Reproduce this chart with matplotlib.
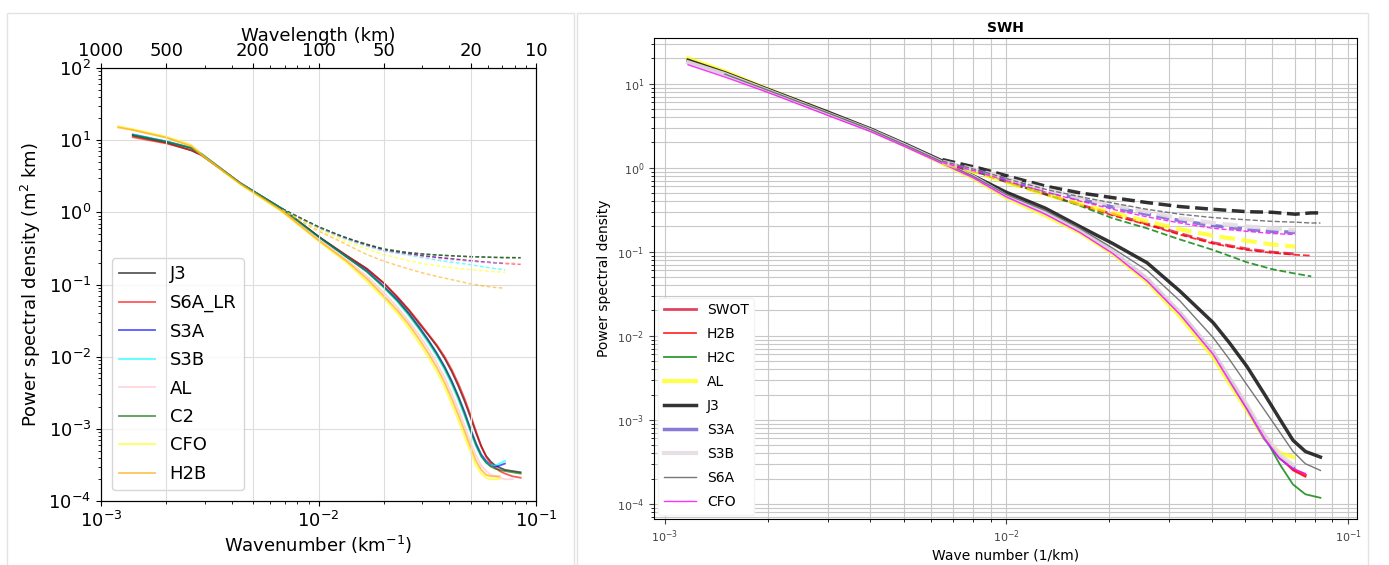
import numpy as np
import matplotlib.pyplot as plt
from matplotlib.patches import Rectangle

nan = np.nan

# ---------------- left panel: along-track PSD per mission ----------------
k_left = [0.0012, 0.0014, 0.0020, 0.0026, 0.0029, 0.0044, 0.0068, 0.0100, 0.0135,
          0.0167, 0.0200, 0.0230, 0.0260, 0.0290, 0.0320, 0.0350, 0.0380, 0.0410,
          0.0440, 0.0470, 0.0500, 0.0530, 0.0560, 0.0590, 0.0620, 0.0650, 0.0680,
          0.0720, 0.0780, 0.0850]

psd_left = {
    "J3":     [nan, 11.5, 9.2, 7.2, 6.2, 2.5, 1.12, 0.46, 0.25,
               0.165, 0.104, 0.067, 0.044, 0.029, 0.020, 0.014, 0.0095, 0.0062,
               0.0039, 0.0024, 1.45e-3, 8.8e-4, 5.7e-4, 4.2e-4, 3.5e-4, 3.1e-4, 2.9e-4,
               2.7e-4, 2.6e-4, 2.5e-4],
    "S6A_LR": [nan, 11.0, 9.0, 7.3, 6.2, 2.5, 1.10, 0.46, 0.25,
               0.165, 0.104, 0.068, 0.045, 0.030, 0.0205, 0.0145, 0.0100, 0.0066,
               0.0042, 0.0026, 1.55e-3, 9.2e-4, 5.8e-4, 4.1e-4, 3.3e-4, 2.9e-4, 2.6e-4,
               2.4e-4, 2.2e-4, 2.1e-4],
    "S3A":    [nan, 12.0, 9.6, 7.8, 6.4, 2.5, 1.12, 0.46, 0.24,
               0.155, 0.094, 0.062, 0.040, 0.026, 0.017, 0.0112, 0.0073, 0.0046,
               0.0028, 0.0017, 1.0e-3, 6.3e-4, 4.4e-4, 3.6e-4, 3.1e-4, 3.0e-4, 3.1e-4,
               3.3e-4, nan, nan],
    "S3B":    [nan, 12.0, 9.6, 7.8, 6.4, 2.5, 1.12, 0.45, 0.24,
               0.150, 0.090, 0.058, 0.037, 0.024, 0.0155, 0.0102, 0.0066, 0.0041,
               0.0025, 0.0015, 9.0e-4, 5.7e-4, 4.1e-4, 3.4e-4, 3.1e-4, 3.1e-4, 3.3e-4,
               3.6e-4, nan, nan],
    "AL":     [15.5, 14.0, 11.0, 8.6, 6.5, 2.5, 1.08, 0.43, 0.22,
               0.130, 0.077, 0.049, 0.031, 0.020, 0.0128, 0.0082, 0.0052, 0.0031,
               1.85e-3, 1.1e-3, 6.6e-4, 4.3e-4, 3.1e-4, 2.6e-4, 2.3e-4, 2.2e-4, 2.1e-4,
               2.0e-4, 2.0e-4, nan],
    "C2":     [nan, 11.8, 9.5, 7.8, 6.4, 2.5, 1.12, 0.46, 0.24,
               0.150, 0.092, 0.060, 0.039, 0.025, 0.0165, 0.0108, 0.0070, 0.0044,
               0.0027, 1.6e-3, 9.5e-4, 6.0e-4, 4.2e-4, 3.4e-4, 3.0e-4, 2.8e-4, 2.7e-4,
               2.6e-4, 2.5e-4, 2.4e-4],
    "CFO":    [15.5, 14.2, 11.2, 8.5, 6.3, 2.4, 1.02, 0.40, 0.20,
               0.110, 0.064, 0.040, 0.025, 0.0155, 0.0098, 0.0062, 0.0038, 0.0022,
               1.3e-3, 7.7e-4, 4.7e-4, 3.1e-4, 2.4e-4, 2.1e-4, 2.0e-4, 2.0e-4, 2.0e-4,
               nan, nan, nan],
    "H2B":    [15.0, 13.8, 10.8, 8.2, 6.2, 2.45, 1.04, 0.41, 0.21,
               0.120, 0.069, 0.044, 0.028, 0.0175, 0.0111, 0.0071, 0.0044, 0.0026,
               1.55e-3, 9.2e-4, 5.6e-4, 3.6e-4, 2.7e-4, 2.3e-4, 2.2e-4, 2.2e-4, 2.2e-4,
               nan, nan, nan],
}

# noisy (dashed) spectra
k_left_d = [0.0068, 0.0085, 0.0100, 0.0125, 0.0145, 0.0167, 0.0200, 0.0250, 0.0300,
            0.0360, 0.0430, 0.0500, 0.0580, 0.0650, 0.0720, 0.0800, 0.0850]

psd_left_d = {
    "J3":     [1.12, 0.80, 0.63, 0.48, 0.41, 0.36, 0.31, 0.28, 0.265, 0.255, 0.248, 0.243,
               0.240, 0.237, 0.235, 0.235, 0.235],
    "S6A_LR": [1.10, 0.79, 0.62, 0.47, 0.40, 0.35, 0.30, 0.27, 0.250, 0.236, 0.225, 0.215,
               0.205, 0.200, 0.195, 0.192, 0.190],
    "S3A":    [1.12, 0.79, 0.62, 0.47, 0.40, 0.35, 0.30, 0.27, 0.250, 0.235, 0.222, 0.212,
               0.205, 0.200, 0.198, nan, nan],
    "S3B":    [1.12, 0.78, 0.61, 0.46, 0.39, 0.34, 0.29, 0.26, 0.235, 0.215, 0.200, 0.188,
               0.175, 0.166, 0.160, nan, nan],
    "AL":     [1.08, 0.78, 0.61, 0.46, 0.39, 0.34, 0.29, 0.26, 0.240, 0.225, 0.215, 0.208,
               0.202, 0.200, 0.200, 0.200, nan],
    "C2":     [1.12, 0.80, 0.63, 0.48, 0.41, 0.36, 0.31, 0.28, 0.265, 0.255, 0.248, 0.243,
               0.240, 0.238, 0.237, 0.236, 0.235],
    "CFO":    [1.08, 0.75, 0.58, 0.43, 0.36, 0.31, 0.26, 0.22, 0.195, 0.180, 0.168, 0.160,
               0.155, 0.150, 0.148, nan, nan],
    "H2B":    [1.08, 0.72, 0.55, 0.40, 0.32, 0.26, 0.21, 0.17, 0.145, 0.127, 0.113, 0.102,
               0.095, 0.091, 0.089, nan, nan],
}

colors_left = {"J3": "black", "S6A_LR": "red", "S3A": "blue", "S3B": "cyan",
               "AL": "pink", "C2": "darkgreen", "CFO": "yellow", "H2B": "orange"}

wavelength_ticks = [1000, 500, 200, 100, 50, 20, 10]

# ---------------- right panel: SWH spectra ----------------
k_right = [0.00117, 0.0015, 0.0020, 0.0030, 0.0040, 0.00515, 0.0065, 0.0080, 0.0100,
           0.0130, 0.0164, 0.0205, 0.0258, 0.0322, 0.0403, 0.0450, 0.0506, 0.0570,
           0.0633, 0.0690, 0.0750, 0.0830]

psd_right = {
    "SWOT": [nan, 13.0, 8.3, 4.4, 2.8, 1.78, 1.15, 0.78, 0.46, 0.29, 0.18, 0.10, 0.048,
             0.019, 6.3e-3, 3.1e-3, 1.45e-3, 6.5e-4, 3.6e-4, 2.6e-4, 2.2e-4, nan],
    "H2B":  [nan, 13.0, 8.3, 4.4, 2.8, 1.78, 1.15, 0.78, 0.46, 0.29, 0.18, 0.10, 0.047,
             0.0187, 6.2e-3, 3.0e-3, 1.4e-3, 6.3e-4, 3.5e-4, 2.5e-4, 2.1e-4, nan],
    "H2C":  [nan, 13.0, 8.3, 4.4, 2.8, 1.78, 1.15, 0.78, 0.46, 0.29, 0.18, 0.10, 0.047,
             0.019, 6.5e-3, 3.2e-3, 1.5e-3, 6.2e-4, 2.9e-4, 1.7e-4, 1.3e-4, 1.18e-4],
    "AL":   [20.0, 14.0, 8.6, 4.5, 2.8, 1.78, 1.12, 0.75, 0.44, 0.27, 0.17, 0.095, 0.044,
             0.017, 5.6e-3, 2.7e-3, 1.3e-3, 6.0e-4, 4.0e-4, 3.6e-4, nan, nan],
    "J3":   [19.0, 13.5, 8.6, 4.6, 2.9, 1.85, 1.20, 0.80, 0.51, 0.33, 0.20, 0.125, 0.074,
             0.034, 0.0143, 8.2e-3, 4.3e-3, 2.0e-3, 1.0e-3, 5.7e-4, 4.2e-4, 3.6e-4],
    "S3A":  [18.0, 13.0, 8.3, 4.4, 2.8, 1.78, 1.15, 0.78, 0.46, 0.29, 0.18, 0.10, 0.047,
             0.0187, 6.3e-3, 3.0e-3, 1.4e-3, 6.0e-4, 3.5e-4, 2.7e-4, nan, nan],
    "S3B":  [18.0, 13.0, 8.3, 4.4, 2.8, 1.78, 1.15, 0.78, 0.46, 0.29, 0.18, 0.10, 0.048,
             0.019, 6.4e-3, 3.1e-3, 1.5e-3, 6.5e-4, 3.8e-4, 2.9e-4, nan, nan],
    "S6A":  [nan, 13.0, 8.4, 4.5, 2.85, 1.8, 1.17, 0.79, 0.48, 0.31, 0.19, 0.11, 0.060,
             0.026, 9.5e-3, 5.2e-3, 2.6e-3, 1.3e-3, 7.0e-4, 4.2e-4, 3.0e-4, 2.5e-4],
    "CFO":  [16.8, 12.0, 7.9, 4.2, 2.7, 1.72, 1.12, 0.76, 0.45, 0.28, 0.17, 0.095, 0.045,
             0.018, 6.0e-3, 2.9e-3, 1.35e-3, 6.0e-4, 3.4e-4, 2.6e-4, 2.3e-4, nan],
}

k_right_d = [0.0065, 0.0084, 0.0105, 0.0131, 0.0165, 0.0205, 0.0258, 0.0322, 0.0403,
             0.0506, 0.0600, 0.0700, 0.0780, 0.0830]

psd_right_d = {
    "SWOT": [1.15, 0.86, 0.64, 0.48, 0.36, 0.28, 0.215, 0.165, 0.128, 0.108, 0.099, 0.094, nan, nan],
    "H2B":  [1.15, 0.86, 0.64, 0.48, 0.36, 0.27, 0.21, 0.16, 0.125, 0.105, 0.097, 0.092, 0.090, nan],
    "H2C":  [1.15, 0.86, 0.64, 0.48, 0.35, 0.25, 0.19, 0.14, 0.105, 0.075, 0.062, 0.055, 0.051, nan],
    "AL":   [1.15, 0.85, 0.63, 0.48, 0.37, 0.29, 0.23, 0.185, 0.155, 0.135, 0.122, 0.115, nan, nan],
    "J3":   [1.25, 0.98, 0.76, 0.60, 0.50, 0.44, 0.385, 0.345, 0.32, 0.30, 0.295, 0.28, 0.29, 0.29],
    "S3A":  [1.18, 0.90, 0.68, 0.53, 0.42, 0.34, 0.28, 0.235, 0.205, 0.185, 0.175, 0.170, nan, nan],
    "S3B":  [1.18, 0.91, 0.70, 0.55, 0.44, 0.36, 0.30, 0.25, 0.22, 0.20, 0.19, 0.180, nan, nan],
    "S6A":  [1.20, 0.92, 0.70, 0.55, 0.45, 0.38, 0.32, 0.28, 0.255, 0.24, 0.23, 0.225, 0.22, 0.22],
    "CFO":  [1.15, 0.88, 0.66, 0.51, 0.40, 0.32, 0.26, 0.22, 0.19, 0.175, 0.165, 0.160, nan, nan],
}

style_right = {
    "SWOT": dict(color="crimson", lw=2.0, alpha=0.8),
    "H2B":  dict(color="red", lw=1.3, alpha=0.8),
    "H2C":  dict(color="green", lw=1.3, alpha=0.8),
    "AL":   dict(color="yellow", lw=3.0, alpha=0.7),
    "J3":   dict(color="black", lw=2.5, alpha=0.8),
    "S3A":  dict(color="slateblue", lw=2.5, alpha=0.8),
    "S3B":  dict(color="#e6dbe3", lw=3.0, alpha=0.9),
    "S6A":  dict(color="dimgray", lw=1.0, alpha=0.9),
    "CFO":  dict(color="magenta", lw=1.0, alpha=0.8),
}

fig = plt.figure(figsize=(13.89, 5.65), dpi=100)

# light frames around the two panels (open at the bottom edge)
W, H = 1389.0, 565.0
for x0, x1 in [(7, 574), (577, 1368)]:
    fig.patches.append(Rectangle((x0 / W, -0.05), (x1 - x0) / W, 1.05 - 13 / H,
                                 transform=fig.transFigure, fill=False,
                                 edgecolor="#e3e3e3", lw=1.0))

# ---- left ----
ax = fig.add_axes([101 / W, 1 - 501 / H, 435 / W, 433 / H])
for name, vals in psd_left.items():
    ax.loglog(k_left, vals, color=colors_left[name], lw=1.3, alpha=0.65, label=name)
for name, vals in psd_left_d.items():
    ax.loglog(k_left_d, vals, color=colors_left[name], lw=1.1, alpha=0.55, ls=(0, (2.5, 1.5)))
ax.set_xlim(1e-3, 1e-1)
ax.set_ylim(1e-4, 1e2)
ax.tick_params(labelsize=13)
ax.set_xlabel("Wavenumber (km$^{-1}$)", fontsize=13, labelpad=2)
ax.set_ylabel("Power spectral density (m$^2$ km)", fontsize=13)
ax.grid(axis="y", color="#dddddd", lw=0.8)
ax.legend(loc="lower left", fontsize=13, labelspacing=0.58, handlelength=2.0,
          borderaxespad=0.6, framealpha=0.8)

ax2 = ax.twiny()
ax2.set_xscale("log")
ax2.set_xlim(ax.get_xlim())
ax2.set_xticks([1.0 / w for w in wavelength_ticks])
ax2.set_xticklabels([str(w) for w in wavelength_ticks])
ax2.tick_params(labelsize=13, pad=2)
ax2.set_xlabel("Wavelength (km)", fontsize=13, labelpad=1)
ax2.grid(color="#dddddd", lw=0.8)

# ---- right ----
bx = fig.add_axes([654 / W, 1 - 519 / H, 703 / W, 481 / H])
for name, vals in psd_right.items():
    bx.loglog(k_right, vals, label=name, **style_right[name])
for name, vals in psd_right_d.items():
    bx.loglog(k_right_d, vals, ls="--", **style_right[name])
bx.set_xlim(9.3e-4, 1.062e-1)
bx.set_ylim(6.6e-5, 35)
bx.grid(True, which="both", color="#c8c8c8", lw=0.8)
bx.tick_params(labelsize=8, colors="#444444")
bx.set_title("SWH", fontsize=10, fontweight="bold", pad=4)
bx.set_xlabel("Wave number (1/km)", fontsize=10, labelpad=2)
bx.set_ylabel("Power spectral density", fontsize=10)
bx.legend(loc="lower left", fontsize=10, labelspacing=0.72, handlelength=2.3,
          edgecolor="#f4f4f4", framealpha=1.0, borderaxespad=0.3)

fig.savefig("out.png", dpi=100)
